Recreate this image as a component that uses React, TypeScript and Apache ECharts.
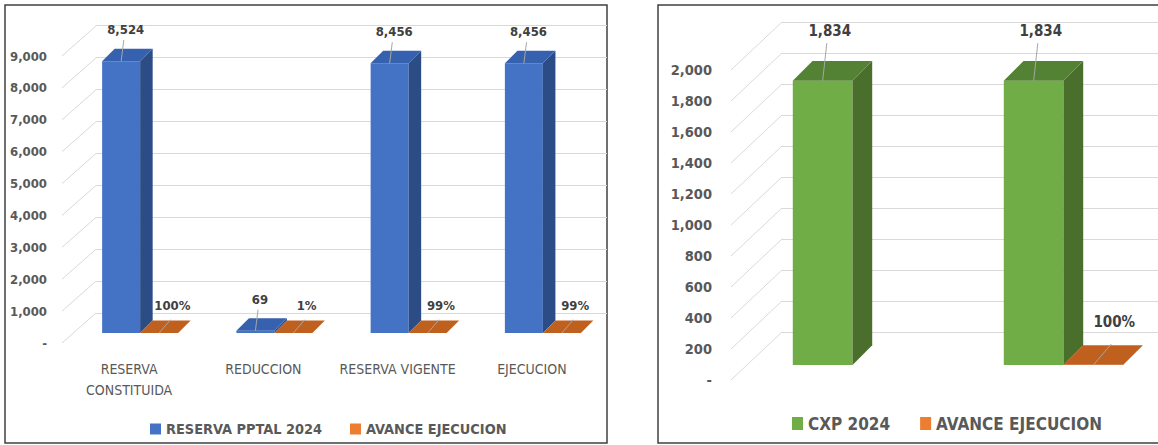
import React, { useEffect, useRef } from "react";
import * as echarts from "echarts";

// ---------- data ----------
const leftCategories = ["RESERVA\nCONSTITUIDA", "REDUCCION", "RESERVA VIGENTE", "EJECUCION"];
const leftReserva = [8524, 69, 8456, 8456];
const leftAvance = [1.0, 0.01, 0.99, 0.99];
const leftTicks = [0, 1000, 2000, 3000, 4000, 5000, 6000, 7000, 8000, 9000];

const rightCategories = ["", ""];
const rightCxp = [1834, 1834];
const rightAvance: (number | null)[] = [null, 1.0];
const rightTicks = [0, 200, 400, 600, 800, 1000, 1200, 1400, 1600, 1800, 2000];

// ---------- style ----------
const FONT = "'DejaVu Sans Condensed', 'DejaVu Sans', sans-serif";
const TXT = "#595959";
const GRIDC = "#D9D9D9";

const BLUE = { front: "#4472C4", side: "#2C4C86", top: "#3661AE", legend: "#4472C4" };
const ORANGE = { front: "#C55A11", side: "#9E4A10", top: "#C0601F", legend: "#ED7D31" };
const GREEN = { front: "#70AD47", side: "#4A6F2C", top: "#548235", legend: "#70AD47" };

const fmtNum = (v: number) => (v === 0 ? "-" : Math.round(v).toLocaleString("en-US"));
const fmtPct = (v: number) => Math.round(v * 100) + "%";

function bar3d(
  name: string,
  values: (number | null)[],
  axisIndex: number,
  side: number,
  colors: any,
  fmt: (v: number) => string,
  plane: { dx: number; dy: number },
  fontSize: number
) {
  return {
    type: "custom",
    name,
    xAxisIndex: axisIndex,
    yAxisIndex: axisIndex,
    clip: false,
    itemStyle: { color: colors.legend },
    data: values.map((v, i) => [i, v == null ? "-" : v]),
    encode: { x: 0, y: 1 },
    renderItem: (params: any, api: any) => {
      const v = api.value(1);
      if (v == null || isNaN(v)) return;
      const c = api.value(0);
      const base = api.coord([c, 0]);
      const top = api.coord([c, v]);
      const band = api.size([1, 0])[0];
      const W = band * 0.283;
      const d = W * 0.33;
      const cx = base[0] + plane.dx;
      const yb = base[1] + plane.dy;
      const yt = top[1] + plane.dy;
      const x0 = side < 0 ? cx - W : cx;
      const x1 = x0 + W;
      const children: any[] = [
        {
          type: "rect",
          shape: { x: x0, y: yt, width: W, height: Math.max(yb - yt, 0) },
          style: { fill: colors.front },
        },
        {
          type: "polygon",
          shape: { points: [[x1, yb], [x1, yt], [x1 + d, yt - d], [x1 + d, yb - d]] },
          style: { fill: colors.side },
        },
        {
          type: "polygon",
          shape: { points: [[x0, yt], [x1, yt], [x1 + d, yt - d], [x0 + d, yt - d]] },
          style: { fill: colors.top },
        },
      ];
      let tx: number, ty: number, l1: number[], l2: number[];
      if (side < 0) {
        tx = x0 + W / 2 + 0.12 * W;
        ty = yt - 0.83 * W;
        l1 = [x0 + W / 2 + 0.07 * W, ty + 0.8 * fontSize];
        l2 = [x0 + W / 2, yt];
      } else {
        tx = x0 + 0.85 * W;
        ty = yb - 0.72 * W;
        l1 = [x0 + 0.8 * W, yb - 0.35 * W];
        l2 = [x0 + 0.5 * W, yb];
      }
      children.push({
        type: "line",
        shape: { x1: l1[0], y1: l1[1], x2: l2[0], y2: l2[1] },
        style: { stroke: "#A6A6A6", lineWidth: 1 },
      });
      children.push({
        type: "text",
        style: {
          text: fmt(v),
          x: tx,
          y: ty,
          align: "center",
          verticalAlign: "middle",
          fill: "#404040",
          font: `bold ${fontSize}px ${FONT}`,
        },
      });
      return { type: "group", children };
    },
  };
}

function diagonals(ticks: number[], axisIndex: number, DX: number, DY: number) {
  return {
    type: "custom",
    xAxisIndex: axisIndex,
    yAxisIndex: axisIndex,
    clip: false,
    silent: true,
    z: 0,
    data: ticks.map((t) => [0, t]),
    encode: { x: 0, y: 1 },
    renderItem: (params: any, api: any) => {
      const p = api.coord([0, api.value(1)]);
      const x = params.coordSys.x;
      return {
        type: "line",
        shape: { x1: x, y1: p[1], x2: x + DX, y2: p[1] + DY },
        style: { stroke: GRIDC, lineWidth: 1 },
      };
    },
  };
}

function buildOption() {
  const valueAxisFront = (max: number, interval: number, gridIndex: number, fs: number, margin: number) => ({
    type: "value",
    gridIndex,
    min: 0,
    max,
    interval,
    axisLine: { show: false },
    axisTick: { show: false },
    splitLine: { show: false },
    axisLabel: {
      formatter: fmtNum,
      color: TXT,
      fontFamily: FONT,
      fontWeight: "bold",
      fontSize: fs,
      margin,
    },
  });
  const valueAxisBack = (max: number, interval: number, gridIndex: number) => ({
    type: "value",
    gridIndex,
    min: 0,
    max,
    interval,
    axisLine: { show: false },
    axisTick: { show: false },
    axisLabel: { show: false },
    splitLine: { show: true, lineStyle: { color: GRIDC, width: 1 } },
  });
  const hiddenX = (gridIndex: number) => ({ type: "value", gridIndex, show: false, min: 0, max: 1 });

  return {
    animation: false,
    backgroundColor: "#ffffff",
    grid: [
      { left: 62, top: 56, width: 537, height: 287 },
      { left: 96, top: 25, width: 511, height: 288 },
      { left: 731, top: 70, width: 422, height: 310 },
      { left: 782, top: 22, width: 376, height: 310 },
    ],
    xAxis: [
      {
        type: "category",
        gridIndex: 0,
        data: leftCategories,
        axisLine: { show: false },
        axisTick: { show: false },
        axisLabel: {
          color: TXT,
          fontFamily: FONT,
          fontSize: 14,
          lineHeight: 21,
          margin: 15,
          interval: 0,
        },
      },
      hiddenX(1),
      {
        type: "category",
        gridIndex: 2,
        data: rightCategories,
        axisLine: { show: false },
        axisTick: { show: false },
        axisLabel: { show: false },
      },
      hiddenX(3),
    ],
    yAxis: [
      valueAxisFront(9000, 1000, 0, 13, 15),
      valueAxisBack(9000, 1000, 1),
      valueAxisFront(2000, 200, 2, 14.5, 19),
      valueAxisBack(2000, 200, 3),
    ],
    legend: [
      {
        data: ["RESERVA PPTAL 2024", "AVANCE EJECUCION"],
        left: 145,
        top: 417,
        icon: "rect",
        itemWidth: 11,
        itemHeight: 11,
        itemGap: 28,
        selectedMode: false,
        textStyle: { color: TXT, fontFamily: FONT, fontWeight: "bold", fontSize: 14.4 },
      },
      {
        data: ["CXP 2024", "AVANCE EJECUCION"],
        left: 787,
        top: 410,
        icon: "rect",
        itemWidth: 11,
        itemHeight: 13,
        itemGap: 30,
        selectedMode: false,
        textStyle: { color: TXT, fontFamily: FONT, fontWeight: "bold", fontSize: 17 },
      },
    ],
    graphic: [
      {
        type: "rect",
        shape: { x: 5, y: 5, width: 602, height: 438 },
        style: { fill: "none", stroke: "#404040", lineWidth: 1.5 },
        silent: true,
      },
      {
        type: "rect",
        shape: { x: 658, y: 5, width: 520, height: 438 },
        style: { fill: "none", stroke: "#404040", lineWidth: 1.5 },
        silent: true,
      },
    ],
    series: [
      diagonals(leftTicks, 0, 34, -30),
      bar3d("RESERVA PPTAL 2024", leftReserva, 0, -1, BLUE, fmtNum, { dx: 11, dy: -10 }, 13),
      bar3d("AVANCE EJECUCION", leftAvance, 0, 1, ORANGE, fmtPct, { dx: 11, dy: -10 }, 13),
      diagonals(rightTicks, 2, 51, -48),
      bar3d("CXP 2024", rightCxp, 2, -1, GREEN, fmtNum, { dx: 16, dy: -15 }, 15),
      bar3d("AVANCE EJECUCION", rightAvance, 2, 1, ORANGE, fmtPct, { dx: 16, dy: -15 }, 15),
    ],
  };
}

export default function App() {
  const ref = useRef<HTMLDivElement>(null);
  useEffect(() => {
    if (!ref.current) return;
    const chart = echarts.init(ref.current, undefined, { renderer: "svg" });
    chart.setOption(buildOption() as any);
    return () => chart.dispose();
  }, []);
  return (
    <div
      ref={ref}
      style={{ position: "absolute", left: 0, top: 0, width: 1158, height: 445, background: "#fff" }}
    />
  );
}
